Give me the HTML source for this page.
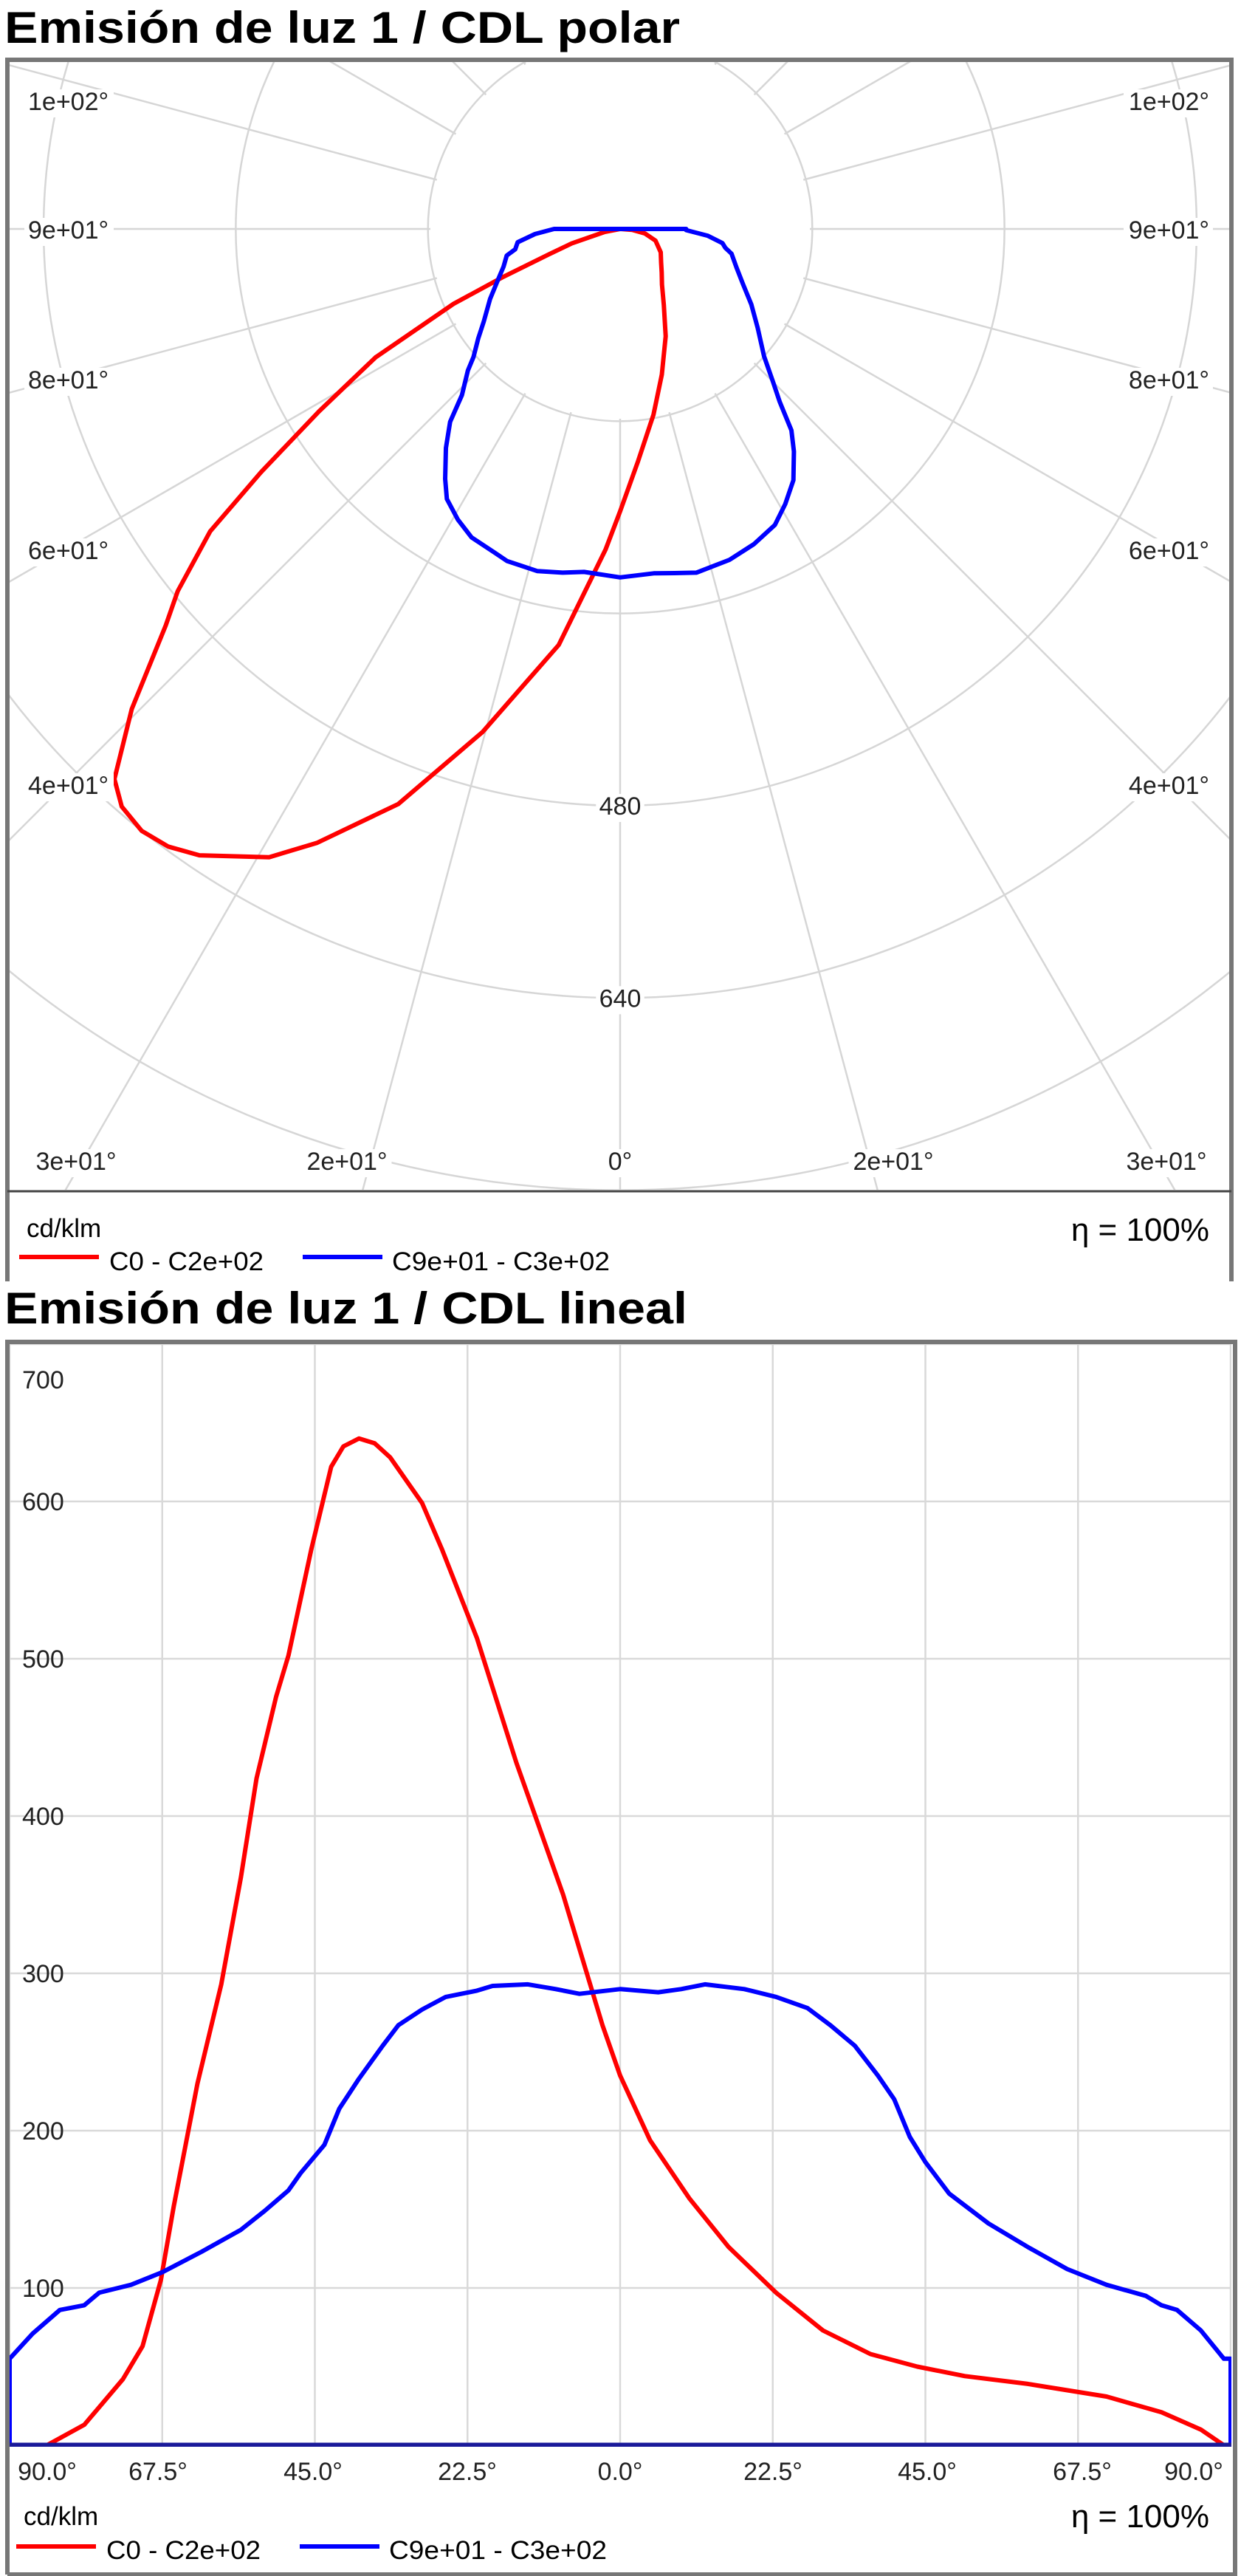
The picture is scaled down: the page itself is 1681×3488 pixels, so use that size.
<!DOCTYPE html>
<html><head><meta charset="utf-8"><style>
html,body{margin:0;padding:0;background:#fff;}
svg{display:block;font-family:"Liberation Sans",sans-serif;}
</style></head><body>
<svg id="s" width="1681" height="3488" viewBox="0 0 1681 3488" xmlns="http://www.w3.org/2000/svg">
<defs>
<clipPath id="cp"><rect x="12" y="84" width="1653" height="1527"/></clipPath>
<clipPath id="cl"><rect x="12" y="1820" width="1656" height="1493"/></clipPath>
</defs>
<rect width="1681" height="3488" fill="#fff"/>
<text x="6" y="58" font-size="60" font-weight="bold" textLength="915" lengthAdjust="spacingAndGlyphs">Emisión de luz 1 / CDL polar</text>
<g id="polar" clip-path="url(#cp)"></g>
<path d="M10,1735 V81 H1668 V1735" fill="none" stroke="#777" stroke-width="6"/>
<line x1="10" y1="1613" x2="1668" y2="1613" stroke="#444" stroke-width="3"/>
<g id="plabels" font-size="34" fill="#222"></g>
<text x="36" y="1675" font-size="35">cd/klm</text>
<text x="1638" y="1680" font-size="44" text-anchor="end">η = 100%</text>
<line x1="26" y1="1702" x2="134" y2="1702" stroke="#f00" stroke-width="6"/>
<text x="148" y="1720" font-size="35" textLength="209" lengthAdjust="spacingAndGlyphs">C0 - C2e+02</text>
<line x1="410" y1="1702" x2="518" y2="1702" stroke="#00f" stroke-width="6"/>
<text x="531" y="1720" font-size="35" textLength="295" lengthAdjust="spacingAndGlyphs">C9e+01 - C3e+02</text>

<text x="6" y="1792" font-size="60" font-weight="bold" textLength="925" lengthAdjust="spacingAndGlyphs">Emisión de luz 1 / CDL lineal</text>
<g id="lin" clip-path="url(#cl)"></g>
<path d="M10,3486 V1817 H1673 V3486 H10" fill="none" stroke="#777" stroke-width="6"/>
<g id="llabels" font-size="34" fill="#222"></g>
<text x="32" y="3419" font-size="35">cd/klm</text>
<text x="1638" y="3422" font-size="44" text-anchor="end">η = 100%</text>
<line x1="22" y1="3448" x2="130" y2="3448" stroke="#f00" stroke-width="6"/>
<text x="144" y="3465" font-size="35" textLength="209" lengthAdjust="spacingAndGlyphs">C0 - C2e+02</text>
<line x1="406" y1="3448" x2="514" y2="3448" stroke="#00f" stroke-width="6"/>
<text x="527" y="3465" font-size="35" textLength="295" lengthAdjust="spacingAndGlyphs">C9e+01 - C3e+02</text>
</svg>
<script>
var NS="http://www.w3.org/2000/svg";
function el(p,t,a,txt){var e=document.createElementNS(NS,t);for(var k in a)e.setAttribute(k,a[k]);if(txt!=null)e.textContent=txt;p.appendChild(e);return e;}
var red=[[-90,0],[-84.5,0],[-79,13],[-73.3,42],[-70.4,63],[-67.7,105],[-65.8,152],[-62.3,230],[-58.8,293],[-55.9,361],[-53.6,424],[-50.7,476],[-48.9,502],[-45.5,570],[-42.6,622],[-40.8,635],[-38.5,640],[-36.2,637],[-33.9,628],[-29.2,599],[-26.3,570],[-21.1,513],[-15.3,434],[-8.4,350],[-2.6,267],[0,235],[4.4,194],[10.2,157],[16,126],[23,97],[29.9,73],[36.9,58],[43.8,50],[50.8,44],[60.1,39],[71.7,31],[79.8,21],[85.6,10],[89,0],[90,0]];
var blue=[[-90,55],[-86.6,71],[-82.6,86],[-79,89],[-76.8,97],[-72.1,102],[-67.5,110],[-61.7,123],[-55.9,137],[-52.4,149],[-48.9,162],[-47.1,173],[-43.6,191],[-41.4,214],[-38.5,233],[-35,254],[-32.7,267],[-29.2,277],[-25.7,285],[-21.1,289],[-18.8,292],[-13.6,293],[-9.5,290],[-6,287],[0,290],[5.6,288],[9,290],[12.5,293],[18.3,290],[23,285],[27.6,278],[31,267],[34.6,254],[38,235],[40.4,220],[42.7,196],[45,180],[48.5,160],[54.3,141],[60.1,126],[65.9,112],[71.7,102],[77.5,95],[79.8,89],[82.1,86],[85.6,73],[89,55],[90,55]];
// polar
var P=document.getElementById("polar"),cx=840,cy=310,k=1.627;
[160,320,480,640,800,960].forEach(function(v){el(P,"circle",{cx:cx,cy:cy,r:v*k,fill:"none",stroke:"#d6d6d6","stroke-width":2.5});});
for(var a=-180;a<180;a+=15){var t=a*Math.PI/180;el(P,"line",{x1:cx+257*Math.sin(t),y1:cy+257*Math.cos(t),x2:cx+2200*Math.sin(t),y2:cy+2200*Math.cos(t),stroke:"#d6d6d6","stroke-width":2.5});}
function ppath(d){return d.map(function(p,i){var t=p[0]*Math.PI/180,r=p[1]*k;return(i?"L":"M")+(cx+r*Math.sin(t)).toFixed(1)+","+(cy+r*Math.cos(t)).toFixed(1);}).join("")+"Z";}
el(P,"path",{d:ppath(red),fill:"none",stroke:"#f00","stroke-width":6,"stroke-linejoin":"round"});
el(P,"path",{d:ppath(blue),fill:"none",stroke:"#00f","stroke-width":6,"stroke-linejoin":"round"});
var PL=document.getElementById("plabels");
function lab(g,x,y,s,anc){var w=s.length*18.5+10;var x0=anc=="start"?x-5:(anc=="end"?x-w+5:x-w/2);el(g,"rect",{x:x0,y:y-28,width:w,height:38,fill:"#fff"});el(g,"text",{x:x,y:y,"text-anchor":anc},s);}
[["1e+02°",137],["9e+01°",311],["8e+01°",514],["6e+01°",745],["4e+01°",1063]].forEach(function(l){lab(PL,38,l[1]+12,l[0],"start");lab(PL,1638,l[1]+12,l[0],"end");});
[["3e+01°",103],["2e+01°",470],["0°",840],["2e+01°",1210],["3e+01°",1580]].forEach(function(l){lab(PL,l[1],1584,l[0],"middle");});
lab(PL,840,cy+480*k+12,"480","middle");lab(PL,840,cy+640*k+12,"640","middle");
// linear
var L=document.getElementById("lin"),x0=840,dx=827/90,y0=3311,dy=2.13;
for(var i=-4;i<=4;i++)el(L,"line",{x1:x0+i*22.5*dx,y1:1815,x2:x0+i*22.5*dx,y2:3313,stroke:"#d9d9d9","stroke-width":2.5});
for(var v=100;v<=700;v+=100)el(L,"line",{x1:9,y1:y0-v*dy,x2:1677,y2:y0-v*dy,stroke:"#d9d9d9","stroke-width":2.5});
function lpath(d){return d.map(function(p,i){return(i?"L":"M")+(x0+p[0]*dx).toFixed(1)+","+(y0-p[1]*dy).toFixed(1);}).join("");}
el(L,"path",{d:lpath(red.slice(1)),fill:"none",stroke:"#f00","stroke-width":6,"stroke-linejoin":"round"});
var b=[[-90,0]].concat(blue,[[90,0]]);
el(L,"path",{d:lpath(b),fill:"none",stroke:"#00f","stroke-width":6,"stroke-linejoin":"round"});
el(L,"line",{x1:9,y1:y0,x2:1677,y2:y0,stroke:"#1a1a9a","stroke-width":7});
var LL=document.getElementById("llabels");
el(LL,"text",{x:30,y:1880},"700");
for(var v=100;v<=600;v+=100)el(LL,"text",{x:30,y:y0-v*dy+12},String(v));
var xl=[["90.0°",64],["67.5°",214],["45.0°",424],["22.5°",633],["0.0°",840],["22.5°",1047],["45.0°",1256],["67.5°",1466],["90.0°",1617]];
xl.forEach(function(l){el(LL,"text",{x:l[1],y:3358,"text-anchor":"middle"},l[0]);});
</script>
</body></html>
